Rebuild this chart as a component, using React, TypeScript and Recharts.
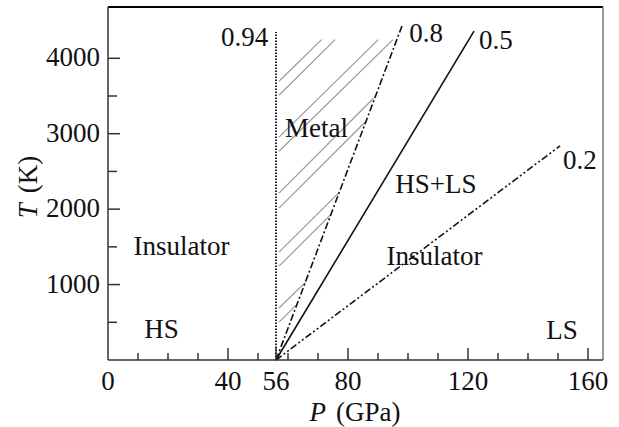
import React from "react";
import {
  ComposedChart,
  Line,
  XAxis,
  YAxis,
  ReferenceDot,
  ReferenceLine,
  Label,
} from "recharts";

// boundaries: pressure P (GPa) vs temperature T (K), all start at 56 GPa
const line094 = [
  { P: 56, T: 0 },
  { P: 56, T: 4350 },
];
const line08 = [
  { P: 56, T: 0 },
  { P: 98.2, T: 4450 },
];
const line05 = [
  { P: 56, T: 0 },
  { P: 122, T: 4360 },
];
const line02 = [
  { P: 56, T: 0 },
  { P: 150.7, T: 2840 },
];

// hatched "Metal" region: each stroke starts just right of 56 GPa
const hatchStartP = 57;
const hatchStartT = [3695, 3510, 2954, 2768, 2212, 2013, 1430, 1245, 689, 503];
const hatchEndP = [71.2, 75.7, 90.1, 95.0, 88.5, 86.0, 76.9, 74.5, 65.8, 62.6];
const hatchEndT = [4248, 4248, 4248, 4248, 3470, 3165, 2215, 1938, 1030, 725];

const xTicks = [0, 10, 20, 30, 40, 50, 56, 60, 70, 80, 90, 100, 110, 120, 130, 140, 150, 160];
const xLabels = [0, 40, 56, 80, 120, 160];
const xMajor = [40, 56, 80, 120, 160];
const yTicks = [500, 1000, 1500, 2000, 2500, 3000, 3500, 4000];
const yLabels = [1000, 2000, 3000, 4000];

const notes = [
  { text: "0.94", P: 45.5, T: 4284 },
  { text: "0.8", P: 106, T: 4337 },
  { text: "0.5", P: 129.3, T: 4244 },
  { text: "0.2", P: 157.3, T: 2653 },
  { text: "Metal", P: 69.5, T: 3077 },
  { text: "HS+LS", P: 109.3, T: 2347 },
  { text: "Insulator", P: 24.5, T: 1525 },
  { text: "Insulator", P: 108.8, T: 1393 },
  { text: "HS", P: 17.8, T: 424 },
  { text: "LS", P: 151.3, T: 411 },
];

const FONT = "'Liberation Serif', 'Times New Roman', serif";
const FS = 27;
const AXIS = "#333";
const BOTTOM = 360;
const LEFT = 108;

const hatch = hatchStartT.map((t, i) => [
  { P: hatchStartP, T: t },
  { P: hatchEndP[i], T: hatchEndT[i] },
]);

function XTick(props: any) {
  const { x, payload } = props;
  const v = payload.value;
  const len = xMajor.includes(v) ? 12 : 7;
  return (
    <g>
      {v !== 0 && (
        <line x1={x} x2={x} y1={BOTTOM} y2={BOTTOM - len} stroke={AXIS} strokeWidth={1.5} />
      )}
      {xLabels.includes(v) && (
        <text x={x} y={390} textAnchor="middle" fontFamily={FONT} fontSize={FS} fill="#111">
          {v}
        </text>
      )}
    </g>
  );
}

function YTick(props: any) {
  const { y, payload } = props;
  const v = payload.value;
  const len = yLabels.includes(v) ? 12 : 9;
  return (
    <g>
      <line x1={LEFT} x2={LEFT + len} y1={y} y2={y} stroke={AXIS} strokeWidth={1.5} />
      {yLabels.includes(v) && (
        <text x={100} y={y + 8} textAnchor="end" fontFamily={FONT} fontSize={FS} fill="#111">
          {v}
        </text>
      )}
    </g>
  );
}

export default function App() {
  return (
    <div style={{ position: "absolute", left: 0, top: 0, background: "#fff" }}>
      <ComposedChart width={619} height={427} margin={{ top: 7, right: 16, bottom: 0, left: 0 }}>
        <XAxis
          type="number"
          dataKey="P"
          domain={[0, 165]}
          ticks={xTicks}
          interval={0}
          height={67}
          tickLine={false}
          axisLine={{ stroke: AXIS, strokeWidth: 1.5 }}
          tick={<XTick />}
        >
          <Label
            content={() => (
              <text x={355} y={421} textAnchor="middle" fontFamily={FONT} fontSize={FS} fill="#111">
                <tspan fontStyle="italic">P</tspan>
                <tspan dx={10}>(GPa)</tspan>
              </text>
            )}
          />
        </XAxis>
        <YAxis
          type="number"
          domain={[0, 4680]}
          ticks={yTicks}
          interval={0}
          width={108}
          tickLine={false}
          axisLine={{ stroke: AXIS, strokeWidth: 1.5 }}
          tick={<YTick />}
        >
          <Label
            content={() => (
              <text
                x={37}
                y={187}
                transform="rotate(-90 37 187)"
                textAnchor="middle"
                fontFamily={FONT}
                fontSize={FS}
                fill="#111"
              >
                <tspan fontStyle="italic">T</tspan>
                <tspan dx={10}>(K)</tspan>
              </text>
            )}
          />
        </YAxis>
        <ReferenceLine y={4680} stroke="#000" strokeWidth={2} />
        <ReferenceLine x={165} stroke="#777" strokeWidth={1.5} />
        {hatch.map((seg, i) => (
          <Line
            key={`h${i}`}
            data={seg}
            dataKey="T"
            stroke="#999"
            strokeWidth={1.2}
            dot={false}
            isAnimationActive={false}
          />
        ))}
        <Line data={line094} dataKey="T" stroke="#222" strokeWidth={2} strokeDasharray="1.5 1.5" dot={false} isAnimationActive={false} />
        <Line data={line08} dataKey="T" stroke="#111" strokeWidth={1.6} strokeDasharray="7 2.5 2 2.5" dot={false} isAnimationActive={false} />
        <Line data={line05} dataKey="T" stroke="#111" strokeWidth={1.6} dot={false} isAnimationActive={false} />
        <Line data={line02} dataKey="T" stroke="#111" strokeWidth={1.6} strokeDasharray="7 2.5 2 2.5 2 2.5" dot={false} isAnimationActive={false} />
        {notes.map((n, i) => (
          <ReferenceDot
            key={`n${i}`}
            x={n.P}
            y={n.T}
            r={0}
            fill="none"
            stroke="none"
            label={{ value: n.text, position: "center", fontFamily: FONT, fontSize: FS, fill: "#111" }}
          />
        ))}
      </ComposedChart>
    </div>
  );
}
